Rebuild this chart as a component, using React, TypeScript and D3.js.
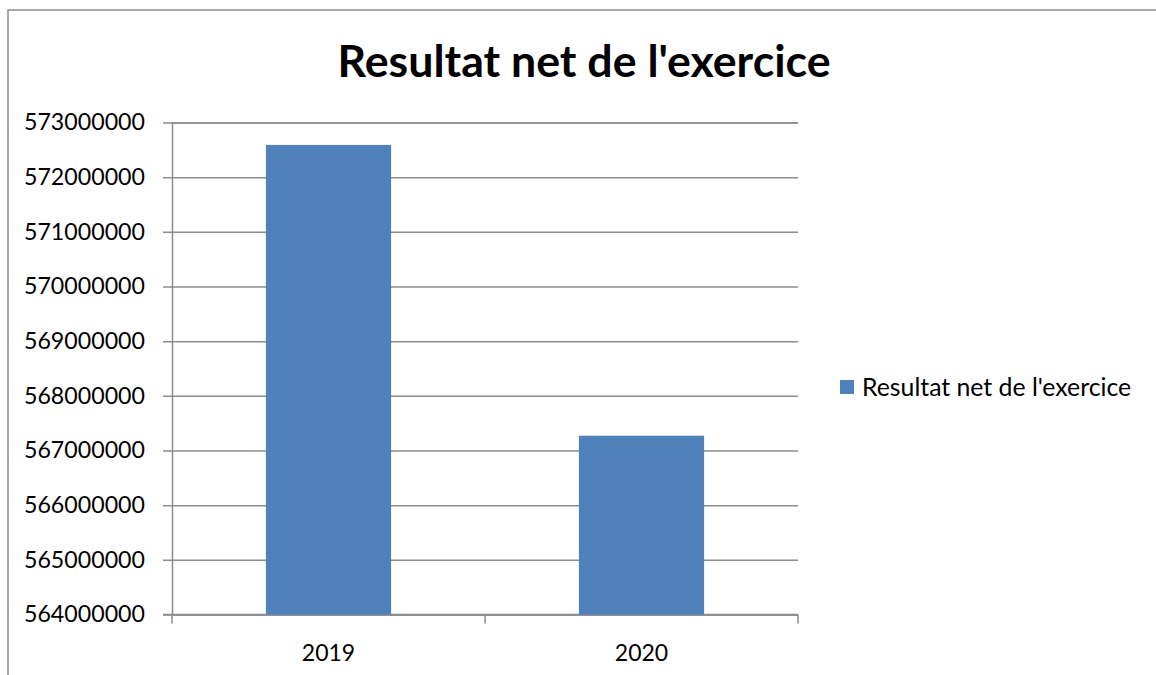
import { useEffect, useRef } from "react";
import * as d3 from "d3";

const title = "Resultat net de l'exercice";
const seriesName = "Resultat net de l'exercice";
const years = ["2019", "2020"];
const values = [572590000, 567270000];
const yTicks = [564000000, 565000000, 566000000, 567000000, 568000000, 569000000, 570000000, 571000000, 572000000, 573000000];

const width = 1156;
const height = 675;
const FONT = "Lato, 'Open Sans', sans-serif";

const App = () => {
  const axisRef = useRef<SVGGElement>(null);

  const plotLeft = 172;
  const plotRight = 798;
  const plotTop = 122.5;
  const plotBottom = 614.5;

  const xScale = d3
    .scaleBand()
    .domain(years)
    .range([plotLeft, plotRight])
    .paddingInner(0.6)
    .paddingOuter(0.3);

  const yScale = d3
    .scaleLinear()
    .domain([yTicks[0], yTicks[yTicks.length - 1]])
    .range([plotBottom, plotTop]);

  useEffect(() => {
    const g = d3.select(axisRef.current);
    g.selectAll("*").remove();

    // y axis with gridlines
    const yAxis = d3
      .axisLeft(yScale)
      .tickValues(yTicks)
      .tickFormat((d) => String(d))
      .tickSize(-(plotRight - plotLeft))
      .tickPadding(27);
    const ya = g.append("g").attr("transform", `translate(${plotLeft},0)`).call(yAxis);
    ya.select(".domain").attr("stroke", "#8c8c8c").attr("stroke-width", 1.5);
    ya.selectAll(".tick line").attr("stroke", "#8c8c8c").attr("stroke-width", 1.5).attr("x1", -9);
    ya.selectAll(".tick text")
      .attr("font-family", FONT)
      .attr("font-size", 23.2)
      .attr("fill", "#000")
      .attr("dy", "0.32em");

    // x axis
    const xa = g.append("g").attr("transform", `translate(0,${plotBottom})`);
    xa.append("line")
      .attr("x1", plotLeft - 9)
      .attr("x2", plotRight)
      .attr("stroke", "#8c8c8c")
      .attr("stroke-width", 1.5);
    const bounds = [plotLeft, ...years.slice(1).map((y) => xScale(y)! - (xScale.step() * xScale.paddingInner()) / 2), plotRight];
    xa.selectAll(".xt")
      .data(bounds)
      .join("line")
      .attr("x1", (d) => d)
      .attr("x2", (d) => d)
      .attr("y1", 0)
      .attr("y2", 9)
      .attr("stroke", "#8c8c8c")
      .attr("stroke-width", 1.5);
    xa.selectAll(".xl")
      .data(years)
      .join("text")
      .attr("x", (d) => xScale(d)! + xScale.bandwidth() / 2)
      .attr("y", 46)
      .attr("text-anchor", "middle")
      .attr("font-family", FONT)
      .attr("font-size", 23)
      .text((d) => d);
  }, []);

  return (
    <svg
      width={width}
      height={height}
      viewBox={`0 0 ${width} ${height}`}
      style={{ position: "absolute", left: 0, top: 0, background: "#fff" }}
    >
      <rect x={8} y={10} width={1200} height={700} fill="#fff" stroke="#8c8c8c" strokeWidth={1.5} />
      <text
        x={584}
        y={77}
        textAnchor="middle"
        fontFamily={FONT}
        fontWeight="bold"
        fontSize={44.7}
      >
        {title}
      </text>
      <g ref={axisRef} />
      <g className="bars">
        {years.map((y, i) => (
          <rect
            key={y}
            x={xScale(y)}
            y={yScale(values[i])}
            width={xScale.bandwidth()}
            height={plotBottom - yScale(values[i])}
            fill="#4f81bd"
          />
        ))}
      </g>
      <g className="legend" transform="translate(840,380)">
        <rect x={0} y={0} width={14} height={14} fill="#4f81bd" />
        <text x={22} y={15.5} fontFamily={FONT} fontSize={24.8}>
          {seriesName}
        </text>
      </g>
    </svg>
  );
};

export default App;
